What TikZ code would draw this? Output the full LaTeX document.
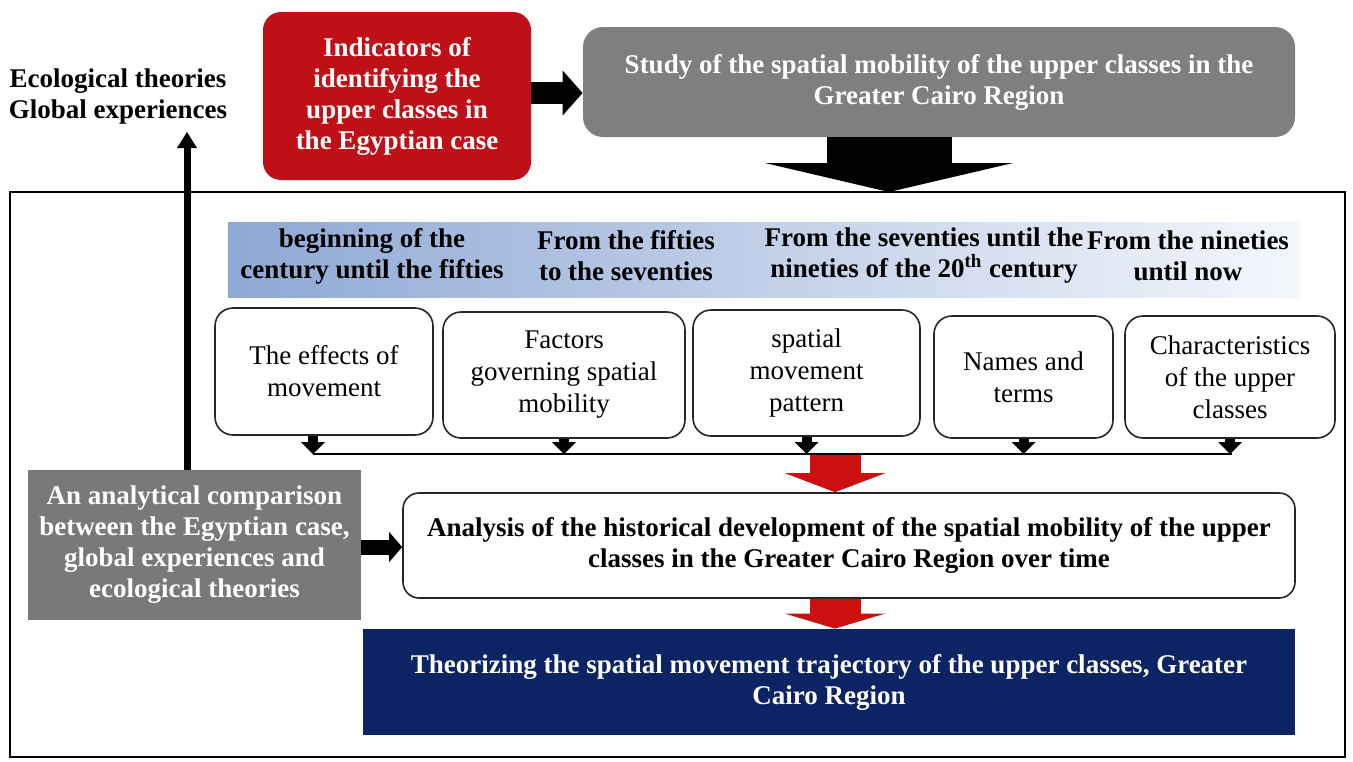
\documentclass[tikz,border=0pt]{standalone}
\usepackage{fontspec}
\setmainfont{Liberation Serif}
\usetikzlibrary{arrows.meta}

\definecolor{boxred}{RGB}{190,16,22}
\definecolor{boxgrey}{RGB}{127,127,127}
\definecolor{navy}{RGB}{12,36,100}
\definecolor{bandL}{RGB}{142,168,212}
\definecolor{bandR}{RGB}{244,247,252}
\definecolor{arrred}{RGB}{204,16,16}

\begin{document}
\begin{tikzpicture}[x=0.5pt,y=-0.5pt,
  boldtxt/.style={font=\bfseries\fontsize{13.5}{15.5}\selectfont, align=center, inner sep=0pt},
  plaintxt/.style={font=\fontsize{13.5}{16}\selectfont, align=center, inner sep=0pt},
  redbox/.style={boldtxt, fill=boxred, text=white, rounded corners=9pt},
  greybox/.style={fill=boxgrey, text=white},
  phase/.style={plaintxt, draw=black!85, line width=0.8pt, rounded corners=9pt, fill=white},
  smallarrow/.style={line width=5pt, -{Triangle[width=12pt, length=6pt, line width=0pt]}},
]
\useasboundingbox (0,0) rectangle (1353,761);

% outer frame of the analysis stage
\draw[line width=0.8pt] (10,192) rectangle (1345,757);
\coordinate (frameTop) at (889,192);

% inputs
\node[boldtxt] (eco) at (118,97) {Ecological theories\\Global experiences};
\node[redbox, minimum width=134pt, minimum height=84pt] (ind) at (397,96)
  {Indicators of\\identifying the\\upper classes in\\the Egyptian case};
\node[boldtxt, greybox, rounded corners=10pt, minimum width=356pt, minimum height=55pt] (study) at (939,82)
  {Study of the spatial mobility of the upper classes in the\\Greater Cairo Region};

% period band
\node[left color=bandL, right color=bandR, minimum width=536pt, minimum height=37.5pt, inner sep=0pt] (band) at (764,259.5) {};
\node[boldtxt] (p1) at (372,256) {beginning of the\\century until the fifties};
\node[boldtxt] (p2) at (626,256) {From the fifties\\to the seventies};
\node[boldtxt] (p3) at (924,256) {From the seventies until the\\nineties of the 20\textsuperscript{th} century};
\node[boldtxt] (p4) at (1188,256) {From the nineties\\until now};

% aspects of the movement
\node[phase, minimum width=109pt, minimum height=63.5pt] (b1) at (324,371.5) {The effects of\\movement};
\node[phase, minimum width=121pt, minimum height=63pt] (b2) at (564,375) {Factors\\governing spatial\\mobility};
\node[phase, minimum width=113.5pt, minimum height=63pt] (b3) at (806.5,373) {spatial\\movement\\pattern};
\node[phase, minimum width=89.5pt, minimum height=61pt] (b4) at (1023.5,377) {Names and\\terms};
\node[phase, minimum width=105pt, minimum height=61pt] (b5) at (1230,377) {Characteristics\\of the upper\\classes};

% collecting line under the aspects
\coordinate (busL) at (313,454);
\coordinate (busR) at (1232,454);
\draw[line width=0.9pt] (busL) -- (busR);
\draw[smallarrow] (b1.south -| busL) -- (busL);
\foreach \b in {b2,b3,b4,b5} \draw[smallarrow] (\b.south) -- (\b.south |- busL);
\coordinate (busM) at (835,455);

% analysis and result
\node[boldtxt, draw=black!85, line width=0.8pt, rounded corners=8pt, fill=white, minimum width=446pt, minimum height=52.5pt] (analysis) at (849,545.5)
  {Analysis of the historical development of the spatial mobility of the upper\\classes in the Greater Cairo Region over time};
\node[boldtxt, fill=navy, text=white, minimum width=466pt, minimum height=53pt] (theory) at (829,682)
  {Theorizing the spatial movement trajectory of the upper classes, Greater\\Cairo Region};
\node[boldtxt, greybox, fill=boxgrey!95!black, minimum width=166.5pt, minimum height=75pt] (comp) at (194.5,545)
  {An analytical comparison\\between the Egyptian case,\\global experiences and\\ecological theories};

% connectors
\draw[line width=11pt, -{Triangle[width=22.5pt, length=10pt, line width=0pt]}] (ind.east |- 0,93) -- (study.west |- 0,93);
\draw[line width=62.5pt, -{Triangle[width=124pt, length=14.5pt, line width=0pt]}] (study.south -| frameTop) -- (frameTop);
\draw[line width=25.5pt, arrred, -{Triangle[width=50pt, length=9.5pt, line width=0pt]}] (busM) -- (analysis.north -| busM);
\draw[line width=25.5pt, arrred, -{Triangle[width=50pt, length=7.5pt, line width=0pt]}] (analysis.south -| busM) -- (theory.north -| busM);
\draw[line width=7.5pt, -{Triangle[width=15pt, length=6.5pt, line width=0pt]}] (comp.east |- 0,547) -- (analysis.west |- 0,547);
\draw[line width=3.5pt, -{Triangle[width=10pt, length=8pt, line width=0pt]}] (comp.north -| 187,0) -- (187,132);
\end{tikzpicture}
\end{document}
